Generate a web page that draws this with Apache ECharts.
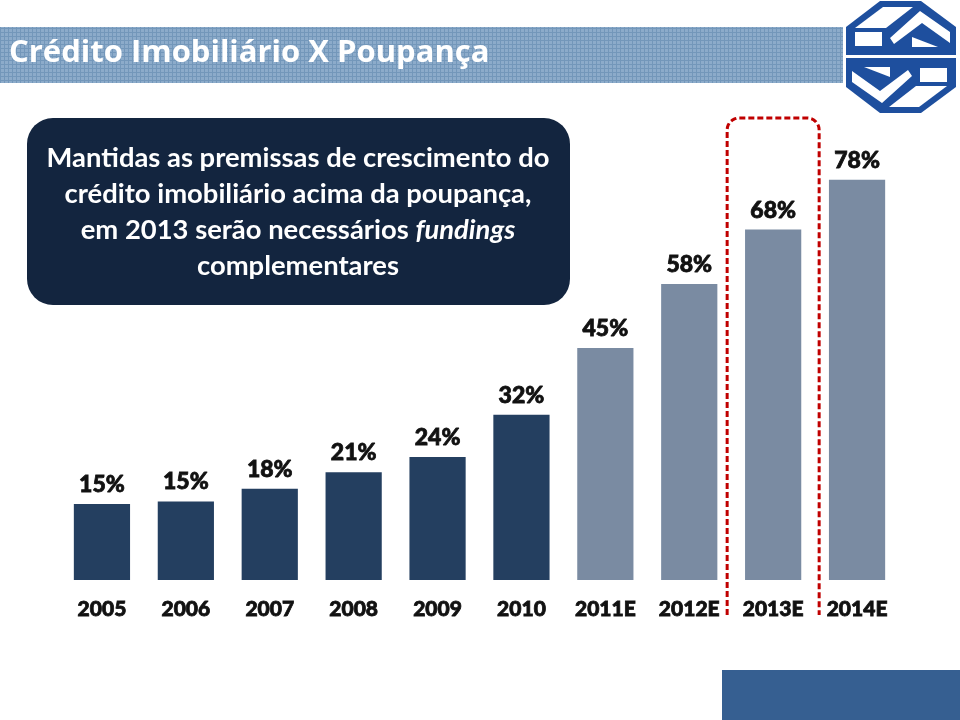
<!DOCTYPE html>
<html>
<head>
<meta charset="utf-8">
<script src="https://cdn.jsdelivr.net/npm/echarts@6/dist/echarts.min.js"></script>
<style>html,body{margin:0;padding:0;background:#fff}#c{width:960px;height:720px}</style>
</head>
<body>
<div id="c"></div>
<script>
var categories = ['2005','2006','2007','2008','2009','2010','2011E','2012E','2013E','2014E'];
var ratioValues = [14.8, 15.3, 17.8, 21, 24, 32.2, 45.2, 57.7, 68.3, 78];
var firstForecastIndex = 6;
var highlightCategory = '2013E';
var titleText = 'Crédito Imobiliário X Poupança';
var boxLines = ['Mantidas as premissas de crescimento do', 'crédito imobiliário acima da poupança,', 'em 2013 serão necessários {i|fundings}', 'complementares'];

(function(){
var FONT = 'Lato, "Open Sans", sans-serif';
var TFONT = '"Open Sans", Lato, sans-serif';
var W = 960, GRID_L = 60, GRID_R = 61;

// pattern for title bar
var pc = document.createElement('canvas');
pc.width = 4; pc.height = 4;
var pctx = pc.getContext('2d');
pctx.fillStyle = '#8cabca'; pctx.fillRect(0,0,4,4);
pctx.fillStyle = '#7397ba'; pctx.fillRect(0,0,4,1); pctx.fillRect(0,0,1,4);

var chart = echarts.init(document.getElementById('c'), null, {renderer:'canvas'});

function rot(p){ return [1802 - p[0], 114 - p[1]]; }
var topFace = [[883,7],[913,7],[886,28],[855,28]];
var frontFace = [[855,32],[882,32],[882,46],[855,46]];
var roof = [[920,11],[950,32],[950,43],[922,23],[894,44],[890,38]];
var tri = [[912,37],[938,47],[912,47]];
var white = {fill:'#fff'};

// highlight frame around the 2013E category (category band center)
var hi = categories.indexOf(highlightCategory);
var band = (W - GRID_L - GRID_R) / categories.length;
var cx = GRID_L + (hi + 0.5) * band;
var hw = 46, fTop = 118, fBot = 615, rr = 12;
var xL = cx - hw, xR = cx + hw;
var pts = [[xL, fBot], [xL, fTop + rr]];
var k;
for (k = 1; k <= 8; k++) { var a = Math.PI + k * Math.PI / 16; pts.push([xL + rr + rr * Math.cos(a), fTop + rr + rr * Math.sin(a)]); }
pts.push([xR - rr, fTop]);
for (k = 1; k <= 8; k++) { var b = 1.5 * Math.PI + k * Math.PI / 16; pts.push([xR - rr + rr * Math.cos(b), fTop + rr + rr * Math.sin(b)]); }
pts.push([xR, fBot]);

var graphics = [
  {type:'rect', shape:{x:0,y:27,width:843,height:56}, style:{fill:{image:pc, repeat:'repeat'}}, z:1},
  {type:'text', left:9, top:38, style:{text:titleText, fill:'#fff', font:'bold 31px ' + TFONT}, z:2},
  {type:'rect', shape:{x:27,y:118,width:543,height:187,r:26}, style:{fill:'#13253f'}, z:1},
  {type:'text', x:298, y:212, style:{
    text: boxLines.join('\n'), fill:'#fff', font:'bold 27.4px ' + FONT, fontWeight:'bold', fontSize:27.4, fontFamily:FONT,
    align:'center', verticalAlign:'middle', lineHeight:36,
    rich:{i:{fontStyle:'italic', fontWeight:'bold', fontSize:27.4, fontFamily:FONT, fill:'#fff', lineHeight:36}}
  }, z:2},
  {type:'rect', shape:{x:722,y:670,width:238,height:50}, style:{fill:'#365f91'}, z:1},
  // logo
  {type:'polygon', shape:{points:[[880,1],[921,1],[956,27],[956,87],[921,113],[880,113],[846,87],[846,27]]}, style:{fill:'#1e4f9e'}, z:1},
  {type:'polygon', shape:{points:topFace}, style:white, z:2},
  {type:'polygon', shape:{points:frontFace}, style:white, z:2},
  {type:'polygon', shape:{points:roof}, style:white, z:2},
  {type:'polygon', shape:{points:tri}, style:white, z:2},
  {type:'polygon', shape:{points:topFace.map(rot)}, style:white, z:2},
  {type:'polygon', shape:{points:frontFace.map(rot)}, style:white, z:2},
  {type:'polygon', shape:{points:roof.map(rot)}, style:white, z:2},
  {type:'polygon', shape:{points:tri.map(rot)}, style:white, z:2},
  {type:'rect', shape:{x:846,y:55,width:110,height:3}, style:white, z:2},
  {type:'polyline', z:5, shape:{points: pts}, style:{fill:'none', stroke:'#c00000', lineWidth:3, lineDash:[6,3]}}
];

var option = {
  animation: false,
  grid: {left: GRID_L, right: GRID_R, top: 67, bottom: 140},
  xAxis: {
    type: 'category', data: categories,
    axisLine: {show: false}, axisTick: {show: false},
    axisLabel: {color: '#111', fontFamily: FONT, fontWeight: 900, fontSize: 21, margin: 19,
      textBorderColor: '#111', textBorderWidth: 0.8}
  },
  yAxis: {type: 'value', min: 0, max: 100, show: false, splitLine: {show: false}},
  series: [{
    type: 'bar',
    data: ratioValues,
    barCategoryGap: '33%',
    itemStyle: {color: function(p){ return p.dataIndex >= firstForecastIndex ? '#7a8ba2' : '#243f60'; }},
    label: {
      show: true, position: 'top', distance: 8,
      formatter: function(p){ return Math.round(p.value) + '%'; },
      color: '#111', fontFamily: FONT, fontWeight: 900, fontSize: 23,
      textBorderColor: '#111', textBorderWidth: 0.8
    }
  }],
  graphic: graphics
};
chart.setOption(option);
})();
</script>
</body>
</html>
